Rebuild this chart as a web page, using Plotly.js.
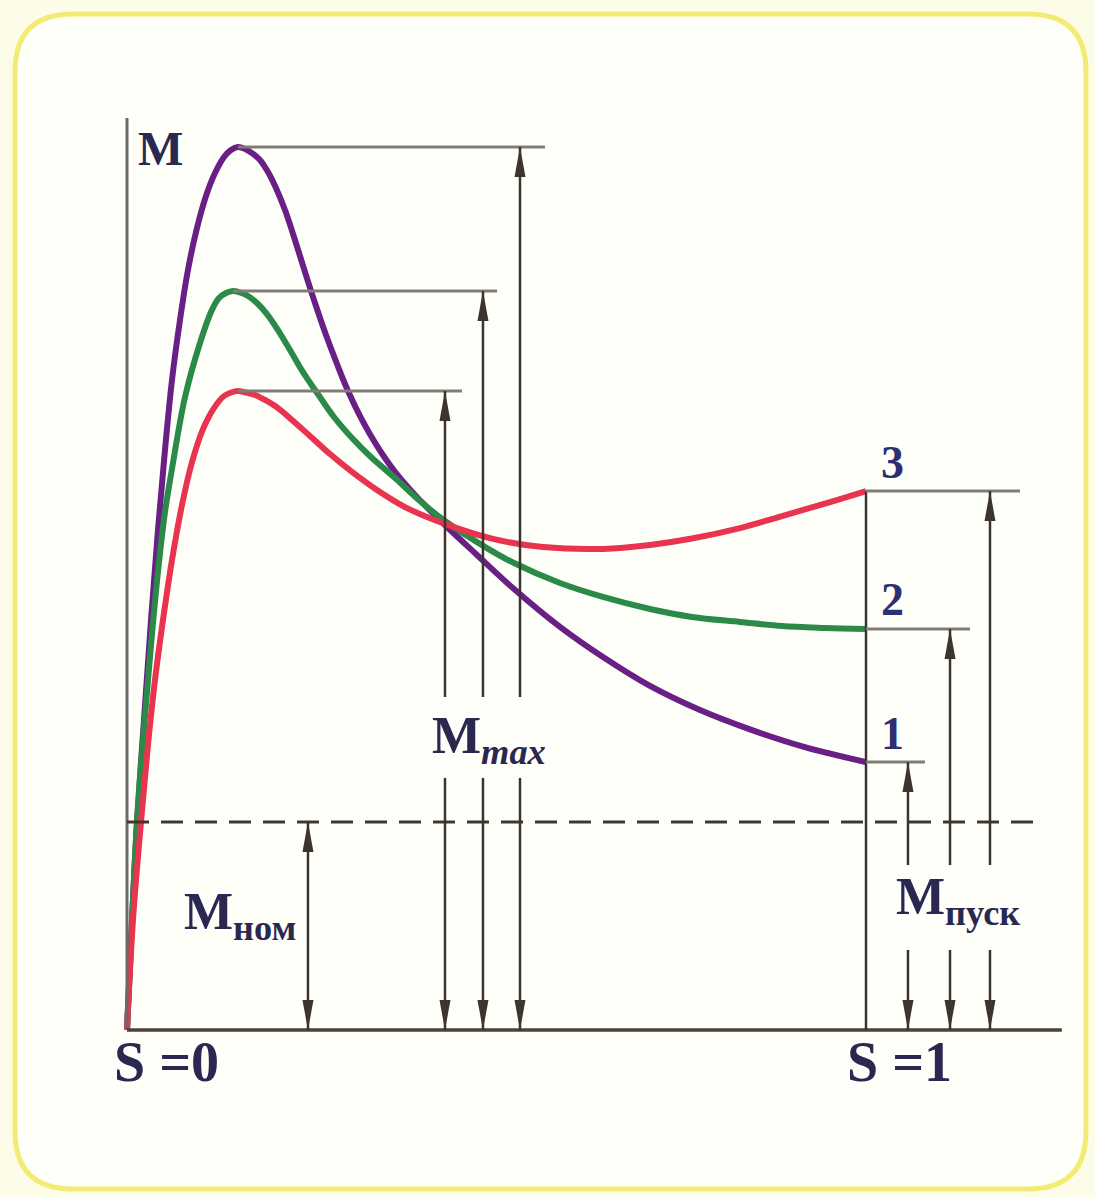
<!DOCTYPE html>
<html>
<head>
<meta charset="utf-8">
<script src="https://cdn.plot.ly/plotly-3.0.1.min.js"></script>
<style>
  html, body { margin: 0; padding: 0; background: #fdfdee; }
  #chart { width: 1095px; height: 1197px; }
</style>
</head>
<body>
<div id="chart"></div>
<script>
// ---- Data (slip S, torque M in units of M_nom) ----
const curveNames = ['1', '2', '3'];
const curveColors = ['#6a1f86', '#2b8a48', '#e8344e'];

const slip1 = [0,0.0068,0.0135,0.0230,0.0325,0.0419,0.0514,0.0609,0.0717,0.0825,0.0947,0.1069,0.1191,0.1313,0.1407,0.1502,
  0.1597,0.1691,0.1800,0.1908,0.2016,0.2138,0.2273,0.2409,0.2544,0.2693,0.2842,0.2991,0.3180,0.3383,0.3627,0.3897,0.4303,0.4736,0.5237,0.5859,0.6441,0.7077,0.7754,0.8430,0.9161,1.0];
const torque1 = [0,0.529,1.000,1.490,1.971,2.404,2.788,3.125,3.413,3.654,3.856,4.010,4.120,4.197,4.231,4.245,
  4.236,4.216,4.183,4.125,4.048,3.942,3.798,3.644,3.495,3.341,3.202,3.072,2.933,2.808,2.683,2.572,2.428,2.284,2.120,1.938,1.793,1.654,1.538,1.445,1.361,1.288];

const slip2 = [0,0.0068,0.0135,0.0230,0.0325,0.0419,0.0514,0.0622,0.0785,0.0988,0.1150,0.1245,0.1340,0.1434,
  0.1529,0.1637,0.1759,0.1894,0.2043,0.2206,0.2382,0.2592,0.2801,0.3045,0.3315,0.3627,0.3965,0.4303,0.4871,0.5237,0.5859,0.6441,0.7077,0.7645,0.8295,0.8863,0.9445,1.0];
const torque2 = [0,0.529,1.000,1.452,1.851,2.202,2.490,2.726,3.043,3.303,3.462,3.519,3.543,3.553,
  3.546,3.529,3.495,3.442,3.365,3.269,3.163,3.053,2.947,2.846,2.750,2.654,2.543,2.447,2.317,2.245,2.149,2.082,2.024,1.986,1.962,1.942,1.933,1.928];

const slip3 = [0,0.0081,0.0189,0.0284,0.0379,0.0487,0.0609,0.0744,0.0880,0.1028,0.1177,0.1313,0.1407,0.1502,
  0.1610,0.1732,0.1867,0.2043,0.2233,0.2476,0.2747,0.3045,0.3383,0.3762,0.4303,0.4953,0.5629,0.6441,0.7077,0.7645,0.8295,0.8863,0.9513,1.0];
const torque3 = [0,0.529,1.000,1.370,1.683,1.971,2.260,2.524,2.731,2.889,2.990,3.048,3.065,3.072,
  3.065,3.053,3.029,2.990,2.933,2.856,2.769,2.683,2.596,2.514,2.433,2.361,2.322,2.313,2.332,2.363,2.413,2.471,2.538,2.591];

const nominalTorque = 1.0;

// annotation geometry (in data units)
const mmaxArrowX = [0.5318, 0.4817, 0.4303];
const mmaxLineEnd = [0.5656, 0.5007, 0.4533];
const mmaxGap = [1.212, 1.601];
const startArrowX = [1.0568, 1.1137, 1.1678];
const startLineEnd = [1.0798, 1.1407, 1.2084];
const startGap = [0.385, 0.793];
const nomArrowX = 0.2449;
const dashEnd = 1.2422;
const axisXEnd = 1.265;
const axisYEnd = 4.385;

// ---- Layout constants ----
const W = 1095, H = 1197;
const X_RANGE = [-0.17185, 1.30988];
const Y_RANGE = [-0.80288, 4.95192];
const kx = (X_RANGE[1] - X_RANGE[0]) / W;
const ky = (Y_RANGE[1] - Y_RANGE[0]) / H;

const FONT = '"Liberation Serif", "Times New Roman", serif';
const TXT = '#2a2850';
const ARROW = '#3b342f';
const REFLINE = '#837c76';

const slips = [slip1, slip2, slip3];
const torques = [torque1, torque2, torque3];

const traces = slips.map((s, i) => ({
  x: s, y: torques[i], type: 'scatter', mode: 'lines',
  name: curveNames[i],
  line: { color: curveColors[i], width: 6, shape: 'spline', smoothing: 1 },
  hoverinfo: 'skip'
}));

const shapes = [];
// rounded frame (paper coords)
(function () {
  const L = 15, T = 14, R = 1086, B = 1189, r = 58;
  const px = v => (v / W).toFixed(5);
  const py = v => (1 - v / H).toFixed(5);
  const p = `M${px(L + r)},${py(T)} L${px(R - r)},${py(T)} Q${px(R)},${py(T)} ${px(R)},${py(T + r)} ` +
    `L${px(R)},${py(B - r)} Q${px(R)},${py(B)} ${px(R - r)},${py(B)} L${px(L + r)},${py(B)} ` +
    `Q${px(L)},${py(B)} ${px(L)},${py(B - r)} L${px(L)},${py(T + r)} Q${px(L)},${py(T)} ${px(L + r)},${py(T)} Z`;
  shapes.push({ type: 'path', xref: 'paper', yref: 'paper', path: p, layer: 'below',
    fillcolor: '#fffffa', line: { color: '#f3ec74', width: 5 } });
})();

function seg(x0, y0, x1, y1, color, width, dash) {
  shapes.push({ type: 'line', xref: 'x', yref: 'y', x0, y0, x1, y1,
    line: { color, width, dash: dash || 'solid' } });
}
function head(x, tip, dir) {
  const hw = 5.5 * kx, len = 30 * ky;
  const b = tip - dir * len;
  shapes.push({ type: 'path', xref: 'x', yref: 'y',
    path: `M${x - hw},${b} L${x},${tip} L${x + hw},${b} Z`,
    fillcolor: ARROW, line: { width: 0 } });
}

// axes
seg(0, 0, 0, axisYEnd, '#6e6668', 3);
seg(0, 0, axisXEnd, 0, '#4a4238', 3.5);
// nominal torque dashed line
seg(0, nominalTorque, dashEnd, nominalTorque, '#3f3732', 3, '22px,12px');
// M_nom arrow
seg(nomArrowX, 0, nomArrowX, nominalTorque, ARROW, 2.5);
head(nomArrowX, nominalTorque, 1);
head(nomArrowX, 0, -1);

// vertical line at S = 1
const endVals = torques.map(t => t[t.length - 1]);
seg(1, 0, 1, Math.max(...endVals), ARROW, 2.5);

for (let i = 0; i < 3; i++) {
  const t = torques[i];
  const peak = Math.max(...t);
  const peakS = slips[i][t.indexOf(peak)];
  // M_max reference line + arrows
  seg(peakS, peak, mmaxLineEnd[i], peak, REFLINE, 3);
  seg(mmaxArrowX[i], mmaxGap[1], mmaxArrowX[i], peak, ARROW, 2.5);
  head(mmaxArrowX[i], peak, 1);
  seg(mmaxArrowX[i], 0, mmaxArrowX[i], mmaxGap[0], ARROW, 2.5);
  head(mmaxArrowX[i], 0, -1);
  // starting torque line + arrows
  const e = endVals[i];
  seg(1, e, startLineEnd[i], e, REFLINE, 3);
  seg(startArrowX[i], startGap[1], startArrowX[i], e, ARROW, 2.5);
  head(startArrowX[i], e, 1);
  seg(startArrowX[i], 0, startArrowX[i], startGap[0], ARROW, 2.5);
  head(startArrowX[i], 0, -1);
}

function label(x, y, text, size, extra, color) {
  return Object.assign({ x, y, xref: 'x', yref: 'y', text, showarrow: false,
    font: { family: FONT, size, color: color || TXT, weight: 'bold' },
    xanchor: 'center', yanchor: 'middle' }, extra || {});
}

const annotations = [
  label(0.0447, 4.240, 'M', 48),
  label(0.4899, 1.395, 'M<sub><i>max</i></sub>', 52),
  label(1.1245, 0.625, 'M<sub>пуск</sub>', 52),
  label(0.1529, 0.552, 'M<sub>ном</sub>', 52),
  label(0.0535, -0.154, 'S =0', 56),
  label(1.0447, -0.154, 'S =1', 56)
];
for (let i = 0; i < 3; i++) {
  annotations.push(label(1, endVals[i], curveNames[i], 46, { xshift: 26, yshift: 29 }, '#2d3070'));
}

const layout = {
  width: W, height: H, autosize: false,
  margin: { l: 0, r: 0, t: 0, b: 0, pad: 0 },
  paper_bgcolor: '#fcfce9', plot_bgcolor: 'rgba(0,0,0,0)',
  showlegend: false,
  xaxis: { range: X_RANGE, visible: false, fixedrange: true },
  yaxis: { range: Y_RANGE, visible: false, fixedrange: true },
  shapes, annotations
};

Plotly.newPlot('chart', traces, layout, { staticPlot: true, displayModeBar: false });
</script>
</body>
</html>
